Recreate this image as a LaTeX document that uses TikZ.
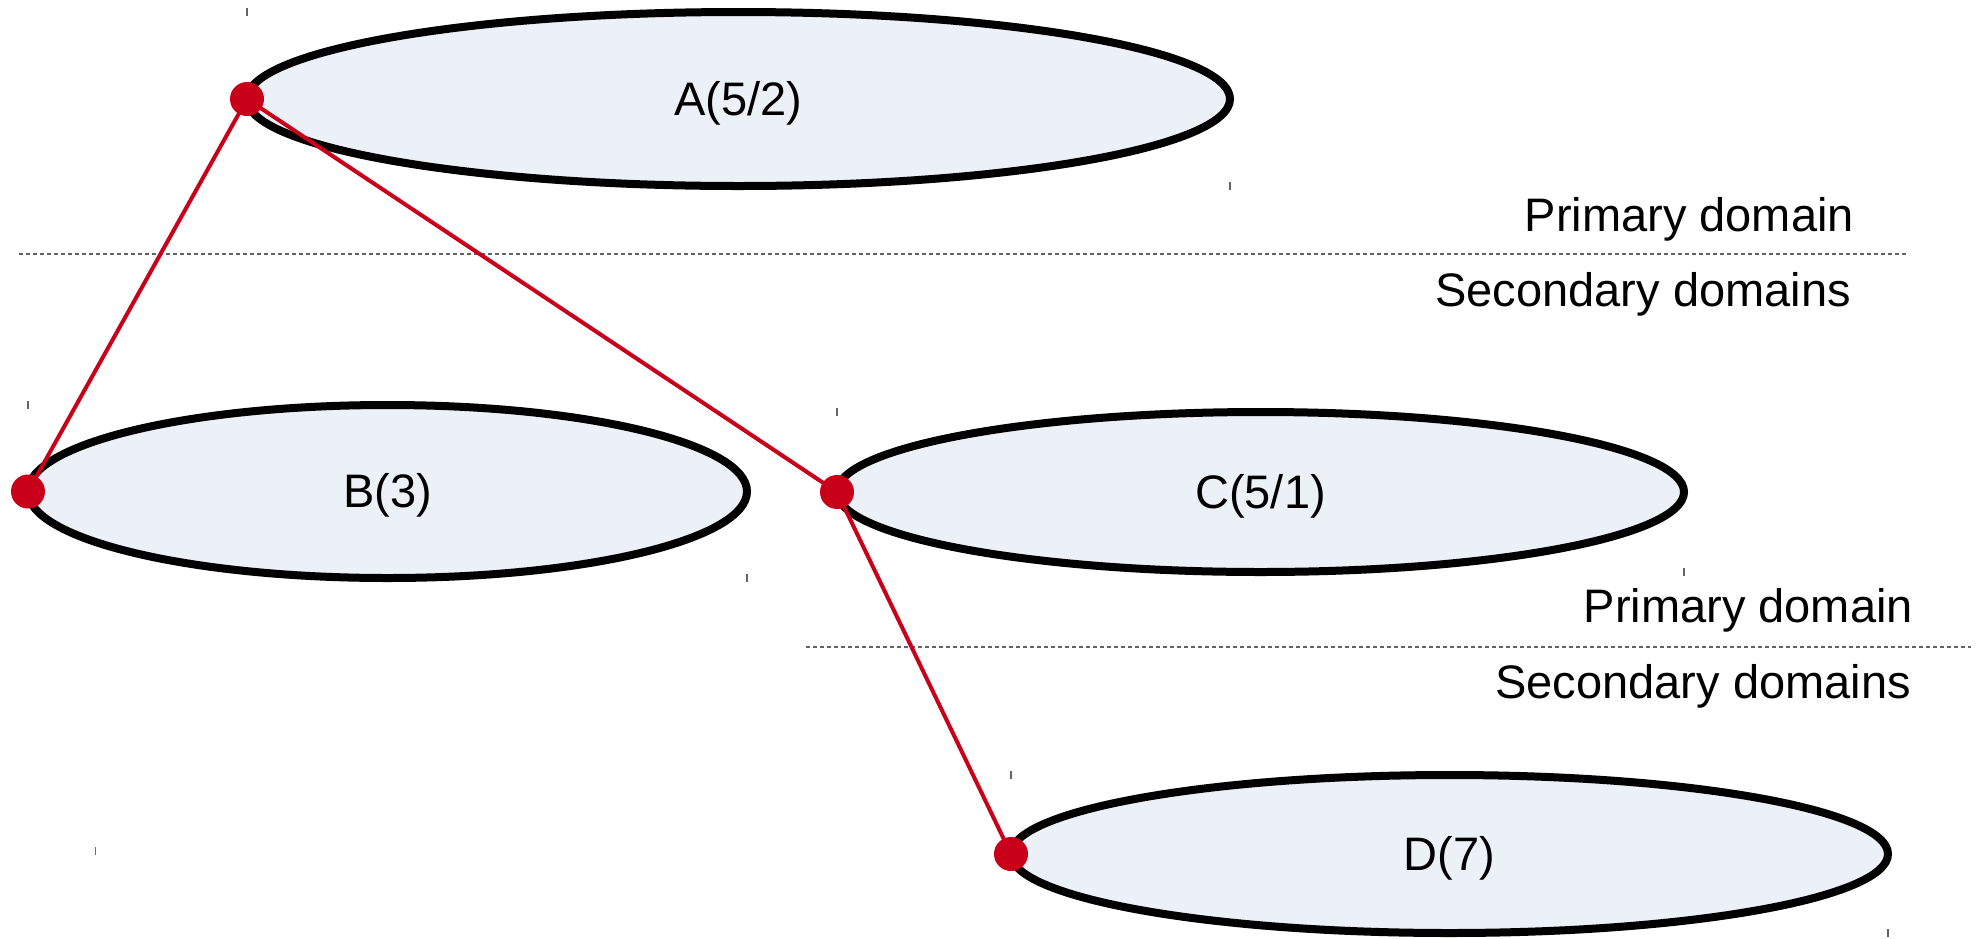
\documentclass[tikz,border=0pt]{standalone}
\usepackage{fontspec}
\setmainfont{Liberation Sans}
\usetikzlibrary{shapes.geometric}
\definecolor{dotred}{RGB}{201,0,26}
\definecolor{domfill}{RGB}{236,241,248}
\definecolor{sepgray}{RGB}{100,100,100}
\definecolor{tickblue}{RGB}{70,120,180}
\tikzset{
  domnode/.style={ellipse, draw=black, line width=8pt, fill=domfill, inner sep=0pt, outer sep=0pt,
    font=\fontsize{47}{50}\selectfont, text height=32pt, text depth=0pt},
  reddot/.style={circle, fill=dotred, inner sep=0pt, minimum size=34pt},
  link/.style={draw=dotred, line width=4pt},
  sepline/.style={draw=sepgray, line width=1.4pt, dash pattern=on 4pt off 3pt},
  lbl/.style={font=\fontsize{47}{50}\selectfont, inner sep=0pt, anchor=base east},
  cornertick/.style={draw=sepgray, line width=1.2pt},
}
\begin{document}
\begin{tikzpicture}[x=1pt,y=-1pt]
\useasboundingbox (0,0) rectangle (1984,938);
% separators
\draw[sepline] (19,254) -- (1907,254);
\draw[sepline] (806,647) -- (1971,647);
% labels
\node[lbl] (p1) at (1854,231) {Primary domain};
\node[lbl] (s1) at (1851,306) {Secondary domains};
\node[lbl] (p2) at (1913,622) {Primary domain};
\node[lbl] (s2) at (1911,698) {Secondary domains};
% ellipses
\node[domnode, minimum width=983pt, minimum height=174pt] (A) at (738.5,99) {A(5/2)};
\node[domnode, minimum width=719pt, minimum height=173pt] (B) at (387.5,491.5) {B(3)};
\node[domnode, minimum width=847pt, minimum height=160pt] (C) at (1260.5,492) {C(5/1)};
\node[domnode, minimum width=877pt, minimum height=158pt] (D) at (1449.5,854) {D(7)};
% small corner ticks
\draw[cornertick] (247,8) -- (247,16);
\draw[cornertick] (1230,182) -- (1230,190);
\draw[cornertick] (28,401) -- (28,409);
\draw[cornertick] (747,574) -- (747,582);
\draw[cornertick] (837,408) -- (837,416);
\draw[cornertick] (1684,568) -- (1684,576);
\draw[cornertick] (1011,771) -- (1011,779);
\draw[cornertick] (1888,929) -- (1888,937);
\draw[draw=tickblue, line width=1.5pt] (95.5,847) -- (95.5,855);
% connectors
\coordinate (pA) at (A.west);
\coordinate (pB) at (B.west);
\coordinate (pC) at (C.west);
\coordinate (pD) at (D.west);
\draw[link] (pA) -- (pB);
\draw[link] (pA) -- (pC);
\draw[link] (pC) -- (pD);
\node[reddot] (dA) at (pA) {};
\node[reddot] (dB) at (pB) {};
\node[reddot] (dC) at (pC) {};
\node[reddot] (dD) at (pD) {};
\end{tikzpicture}
\end{document}
